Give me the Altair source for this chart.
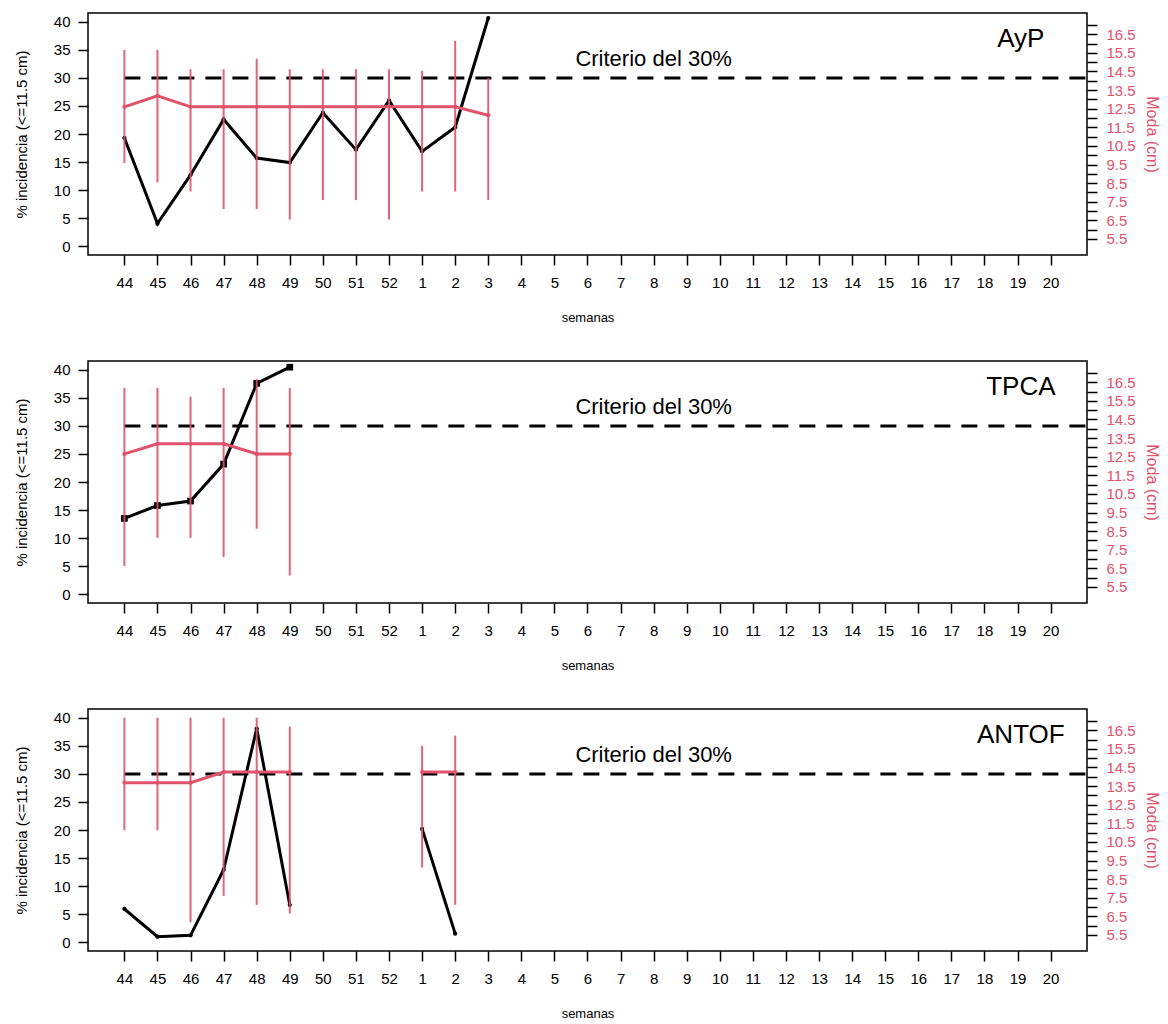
import altair as alt
import pandas as pd

FONT = "Liberation Sans"
PINK = "#DF536B"

weeks = ["44", "45", "46", "47", "48", "49", "50", "51", "52",
         "1", "2", "3", "4", "5", "6", "7", "8", "9", "10", "11", "12",
         "13", "14", "15", "16", "17", "18", "19", "20"]

# AyP
ayp_weeks = ["44", "45", "46", "47", "48", "49", "50", "51", "52", "1", "2", "3"]
ayp_seg = [0] * 12
ayp_inc = [19.3, 4.0, 12.7, 22.6, 15.7, 14.9, 23.8, 17.2, 26.0, 16.9, 21.2, 40.7]
ayp_moda = [12.6, 13.19, 12.6, 12.6, 12.6, 12.6, 12.6, 12.6, 12.6, 12.6, 12.6, 12.15]
ayp_hi = [15.66, 15.66, 14.62, 14.62, 15.19, 14.62, 14.62, 14.62, 14.62, 14.53, 16.14, 14.14]
ayp_lo = [9.58, 8.54, 8.05, 7.11, 7.11, 6.54, 7.59, 7.59, 6.54, 8.05, 8.05, 7.59]

# TPCA
tpca_weeks = ["44", "45", "46", "47", "48", "49"]
tpca_seg = [0] * 6
tpca_inc = [13.5, 15.8, 16.6, 23.2, 37.6, 40.5]
tpca_moda = [12.65, 13.19, 13.19, 13.19, 12.65, 12.65]
tpca_hi = [16.19, 16.19, 15.73, 16.19, 16.67, 16.19]
tpca_lo = [6.63, 8.14, 8.14, 7.11, 8.63, 6.12]

# ANTOF
antof_weeks = ["44", "45", "46", "47", "48", "49", "1", "2"]
antof_seg = [0, 0, 0, 0, 0, 0, 1, 1]
antof_inc = [5.9, 0.95, 1.2, 12.9, 38.1, 6.6, 20.2, 1.5]
antof_moda = [13.68, 13.68, 13.68, 14.25, 14.25, 14.25, 14.25, 14.25]
antof_hi = [17.17, 17.17, 17.17, 17.17, 17.17, 16.69, 15.66, 16.21]
antof_lo = [11.13, 11.13, 6.18, 7.60, 7.12, 6.66, 9.12, 7.12]

criterio = 30
criterio_label = "Criterio del 30%"
left_ticks = [0, 5, 10, 15, 20, 25, 30, 35, 40]
right_ticks = [5.5 + 0.5 * i for i in range(24)]

xscale = alt.Scale(domain=[-1.1, 29.1], nice=False, zero=False)
lscale = alt.Scale(domain=[-1.6, 41.6], nice=False, zero=False)
rscale = alt.Scale(domain=[4.64, 17.64], nice=False, zero=False)

week_js = "[" + ",".join("'%s'" % w for w in weeks) + "]"
xaxis = alt.Axis(values=list(range(len(weeks))), labelExpr=week_js + "[datum.value]",
                 title="semanas", grid=False, domain=False, tickSize=10, tickColor="black",
                 tickWidth=1.5, labelFontSize=15, labelPadding=10, labelColor="black",
                 titleFontSize=13, titleFontWeight="normal", titlePadding=21,
                 titleColor="black", labelFont=FONT, titleFont=FONT)
laxis = alt.Axis(values=left_ticks, title="% incidencia (<=11.5 cm)", grid=False,
                 domain=False, tickSize=10, tickColor="black", tickWidth=1.5,
                 labelFontSize=15, labelPadding=8, labelColor="black",
                 titleFontSize=15, titleFontWeight="normal", titlePadding=24,
                 titleColor="black", labelFont=FONT, titleFont=FONT)
raxis = alt.Axis(orient="right", values=right_ticks,
                 labelExpr="(datum.value % 1 == 0.5) ? format(datum.value, '.1f') : ''",
                 title="Moda (cm)", grid=False, domain=False, tickSize=10,
                 tickColor="black", tickWidth=1.5, labelFontSize=15, labelPadding=9,
                 labelColor=PINK, titleColor=PINK, titleFontSize=16,
                 titleFontWeight="normal", titlePadding=8, labelFont=FONT,
                 titleFont=FONT, labelOverlap=False)


def panel(name, wk, seg, inc, moda, lo, hi, shape, psize):
    df = pd.DataFrame({
        "idx": [weeks.index(w) for w in wk],
        "seg": seg, "inc": inc, "moda": moda, "lo": lo, "hi": hi,
    })
    base = alt.Chart(df)
    X = alt.X("idx:Q", scale=xscale, axis=xaxis)
    YL = alt.Y("inc:Q", scale=lscale, axis=laxis)

    line = base.mark_line(color="black", strokeWidth=3).encode(x=X, y=YL, detail="seg:N")
    pts = base.mark_point(filled=True, shape=shape, size=psize, color="black",
                          opacity=1).encode(x=X, y=YL)

    thr_df = pd.DataFrame({"x0": [0], "x1": [29.1], "y": [criterio]})
    thr = alt.Chart(thr_df).mark_rule(color="black", strokeDash=[16, 11],
                                      strokeWidth=3).encode(
        x=alt.X("x0:Q", scale=xscale, axis=xaxis), x2="x1:Q",
        y=alt.Y("y:Q", scale=lscale, axis=laxis))

    crit_df = pd.DataFrame({"x": [16], "y": [33.4], "t": [criterio_label]})
    crit = alt.Chart(crit_df).mark_text(font=FONT, fontSize=22, color="black",
                                        align="center", baseline="middle").encode(
        x=alt.X("x:Q", scale=xscale, axis=xaxis),
        y=alt.Y("y:Q", scale=lscale, axis=laxis), text="t:N")

    name_df = pd.DataFrame({"x": [27.1], "y": [37.0], "t": [name]})
    ttl = alt.Chart(name_df).mark_text(font=FONT, fontSize=26, color="black",
                                       align="center", baseline="middle").encode(
        x=alt.X("x:Q", scale=xscale, axis=xaxis),
        y=alt.Y("y:Q", scale=lscale, axis=laxis), text="t:N")

    YR = alt.Y("moda:Q", scale=rscale, axis=raxis)
    err = base.mark_rule(color=PINK, strokeWidth=2, opacity=0.9).encode(
        x=X, y=alt.Y("lo:Q", scale=rscale, axis=raxis), y2="hi:Q")
    pline = base.mark_line(color=PINK, strokeWidth=3).encode(x=X, y=YR, detail="seg:N")
    ppts = base.mark_point(filled=True, shape="circle", size=18, color=PINK,
                           opacity=1).encode(x=X, y=YR)

    left = alt.layer(line, pts, thr, crit, ttl)
    right = alt.layer(err, pline, ppts)
    return alt.layer(left, right).resolve_scale(y="independent").properties(
        width=999, height=242)


p1 = panel("AyP", ayp_weeks, ayp_seg, ayp_inc, ayp_moda, ayp_lo, ayp_hi, "circle", 18)
p2 = panel("TPCA", tpca_weeks, tpca_seg, tpca_inc, tpca_moda, tpca_lo, tpca_hi, "square", 45)
p3 = panel("ANTOF", antof_weeks, antof_seg, antof_inc, antof_moda, antof_lo, antof_hi, "circle", 18)

chart = (
    alt.vconcat(p1, p2, p3, spacing=35)
    .properties(padding={"left": 5, "top": 3, "right": 0, "bottom": 0})
    .configure(font=FONT)
    .configure_view(stroke="black", strokeWidth=1.5)
)

chart.save("out.html", embed_options={"renderer": "svg", "actions": False})
